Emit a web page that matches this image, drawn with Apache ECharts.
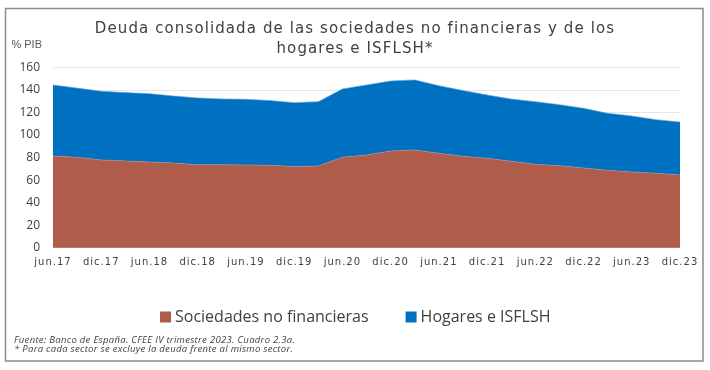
<!DOCTYPE html>
<html><head><meta charset="utf-8">
<script src="https://cdn.jsdelivr.net/npm/echarts@6/dist/echarts.min.js"></script>
<style>html,body{margin:0;padding:0;background:#fff}#c{width:710px;height:370px}</style>
</head><body><div id="c"></div>
<script>
const quarters = ['jun.17','sep.17','dic.17','mar.18','jun.18','sep.18','dic.18','mar.19','jun.19','sep.19','dic.19','mar.20','jun.20','sep.20','dic.20','mar.21','jun.21','sep.21','dic.21','mar.22','jun.22','sep.22','dic.22','mar.23','jun.23','sep.23','dic.23'];
const sociedades = [81.4,80.3,77.9,77.0,76.1,75.2,73.7,73.7,73.4,73.2,72.0,72.6,80.3,82.3,85.9,86.8,83.8,81.1,79.4,76.7,74.0,72.8,70.8,68.7,67.2,66.1,64.6];
const total = [144.5,141.7,138.9,137.7,136.8,134.7,133.0,132.1,131.8,130.6,128.8,129.7,141.0,144.5,148.0,149.0,143.9,139.5,135.6,132.0,129.7,127.0,123.8,119.3,117.0,113.7,111.6];
const hogares = total.map((t,i)=>+(t - sociedades[i]).toFixed(1));
const yTicks = {min:0, max:160, interval:20};

// letter-spacing only for texts whose font family list carries a marker (lspNN = NN/10 px)
(function(){
  const P = CanvasRenderingContext2D.prototype, orig = P.fillText;
  P.fillText = function(t,x,y,m){
    const f = this.font || '';
    const mm = f.match(/lsp(\d+)/);
    const ls = mm ? (parseInt(mm[1],10)/10) + 'px' : '0px';
    if ('letterSpacing' in this) {
      this.letterSpacing = ls;
      this.font = f;
    }
    return m === undefined ? orig.call(this,t,x,y) : orig.call(this,t,x,y,m);
  };
})();

const chart = echarts.init(document.getElementById('c'), null, {renderer:'canvas'});
chart.setOption({
  animation:false,
  backgroundColor:'#fff',
  title:{
    text:'Deuda consolidada de las sociedades no financieras y de los\nhogares e ISFLSH*',
    left:350, top:14, textAlign:'center',
    textStyle:{fontFamily:'"DejaVu Sans", lsp11', fontSize:15, fontWeight:'normal', color:'#404040', lineHeight:20}
  },
  grid:{left:53, right:30, top:67.5, bottom:122.3, outerBoundsMode:'none'},
  legend:{
    top:304, left:155, itemWidth:11, itemHeight:11, itemGap:37,
    icon:'rect',
    textStyle:{fontFamily:'Open Sans', fontSize:16, color:'#404040', padding:[0,0,0,-1]},
    data:['Sociedades no financieras','Hogares e ISFLSH']
  },
  xAxis:{
    type:'category', data:quarters, boundaryGap:false,
    axisTick:{show:false},
    axisLine:{lineStyle:{color:'#d9d9d9'}},
    axisLabel:{interval:1, margin:10, fontFamily:'"DejaVu Sans", lsp10', fontSize:10, color:'#404040'}
  },
  yAxis:{
    type:'value', min:yTicks.min, max:yTicks.max, interval:yTicks.interval,
    name:'% PIB', nameLocation:'end', nameGap:17,
    nameTextStyle:{fontFamily:'Liberation Sans', fontSize:11, color:'#595959', align:'right', padding:[0,11,0,0]},
    axisLine:{show:false}, axisTick:{show:false},
    axisLabel:{margin:13, fontFamily:'Open Sans', fontSize:12, color:'#404040'},
    splitLine:{lineStyle:{color:'#e6e6e6', width:1}}
  },
  series:[
    {name:'Sociedades no financieras', type:'line', stack:'t', data:sociedades, symbol:'none',
     color:'#B05C4A', lineStyle:{width:0.6, color:'#c98a7d'}, areaStyle:{color:'#B05C4A', opacity:1}},
    {name:'Hogares e ISFLSH', type:'line', stack:'t', data:hogares, symbol:'none',
     color:'#0070C0', lineStyle:{width:0.6, color:'#5a9fd6'}, areaStyle:{color:'#0070C0', opacity:1}}
  ],
  graphic:[
    {type:'rect', shape:{x:5.5, y:8.5, width:697.5, height:352.5}, style:{fill:'none', stroke:'#8c8c8c', lineWidth:1.5}, silent:true, z:-1},
    {type:'text', left:14, top:335, style:{text:'Fuente: Banco de España. CFEE IV trimestre 2023. Cuadro 2.3a.', font:'italic 9.5px "Open Sans", lsp3', fill:'#404040'}},
    {type:'text', left:14, top:344.5, style:{text:'* Para cada sector se excluye la deuda frente al mismo sector.', font:'italic 9.5px "Open Sans", lsp3', fill:'#404040'}}
  ]
});
</script></body></html>
